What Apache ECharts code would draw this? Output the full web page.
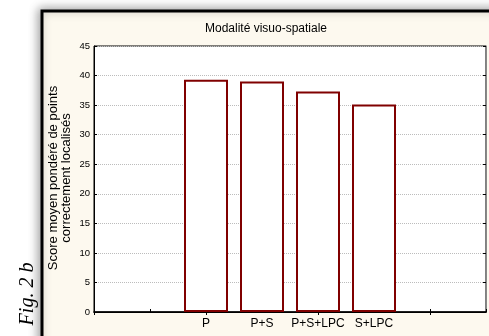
<!DOCTYPE html>
<html>
<head>
<meta charset="utf-8">
<script src="https://cdn.jsdelivr.net/npm/echarts@6/dist/echarts.min.js"></script>
<style>
html,body{margin:0;padding:0;background:#fff;}
#c{width:489px;height:336px;}
</style>
</head>
<body>
<div id="c"></div>
<script>
var categories = ['P', 'P+S', 'P+S+LPC', 'S+LPC'];
var scores = [39.3, 39.0, 37.3, 35.1];
var yTicks = [0, 5, 10, 15, 20, 25, 30, 35, 40, 45];
var titleText = 'Modalité visuo-spatiale';
var yName = 'Score moyen pondéré de points\ncorrectement localisés';
var figLabel = 'Fig. 2 b';

// pad: two empty slots before, two after
var axisCats = ['', ''].concat(categories, ['', '']);
var barData = [null, null].concat(scores, [null, null]);

var chart = echarts.init(document.getElementById('c'), null, {renderer: 'canvas'});
var font = 'Arial, "Liberation Sans", sans-serif';
chart.setOption({
  animation: false,
  backgroundColor: '#fff',
  graphic: [
    {type: 'rect', z: -10, shape: {x: 42, y: 11, width: 470, height: 340},
     style: {fill: '#fdf9ef', stroke: '#000', lineWidth: 3,
             shadowBlur: 10, shadowColor: 'rgba(0,0,0,0.35)', shadowOffsetX: -2, shadowOffsetY: -1}},
    {type: 'text', x: 266, y: 29, z: 10,
     style: {text: titleText, font: '12px ' + font, fill: '#000', textAlign: 'center', textVerticalAlign: 'middle'}},
    {type: 'text', x: 60, y: 178, rotation: Math.PI / 2, z: 10,
     style: {text: yName, font: '13px ' + font, lineHeight: 13, fill: '#000', textAlign: 'center', textVerticalAlign: 'middle'}},
    {type: 'text', x: 28, y: 294, rotation: Math.PI / 2, z: 10,
     style: {text: figLabel, font: 'italic 20px "Liberation Serif", "DejaVu Serif", serif', fill: '#000', textAlign: 'center', textVerticalAlign: 'middle'}}
  ],
  grid: {left: 94, top: 46, width: 394, height: 266, show: true, backgroundColor: '#fff',
         borderWidth: 1, borderColor: '#000'},
  xAxis: [
    {type: 'category', data: axisCats, boundaryGap: false, position: 'bottom',
     axisLine: {lineStyle: {color: '#000', width: 1.5}},
     axisTick: {inside: true, length: 3, lineStyle: {color: '#000'}},
     axisLabel: {interval: 0, color: '#000', fontSize: 12, fontFamily: font, margin: 6},
     splitLine: {show: false}},
    {type: 'category', data: axisCats, boundaryGap: false, position: 'top',
     axisLine: {show: true, lineStyle: {color: '#000', width: 1}},
     axisTick: {show: true, inside: true, length: 3, lineStyle: {color: '#000'}},
     axisLabel: {show: false}, splitLine: {show: false}}
  ],
  yAxis: [
    {type: 'value', min: 0, max: 45, interval: 5, position: 'left',
     axisLine: {show: true, lineStyle: {color: '#000', width: 1}},
     axisTick: {show: true, inside: true, length: 3, lineStyle: {color: '#000'}},
     axisLabel: {color: '#000', fontSize: 9.5, fontFamily: font, margin: 4,
                 formatter: function (v) { return yTicks.indexOf(v) >= 0 ? String(v) : ''; }},
     splitLine: {show: true, lineStyle: {color: '#bcbcbc', type: [1, 1], width: 1}}},
    {type: 'value', min: 0, max: 45, interval: 5, position: 'right',
     axisLine: {show: true, lineStyle: {color: '#888', width: 1}},
     axisTick: {show: true, inside: true, length: 3, lineStyle: {color: '#000'}},
     axisLabel: {show: false}, splitLine: {show: false}}
  ],
  series: [
    {type: 'bar', data: barData, barWidth: 44, xAxisIndex: 0, yAxisIndex: 0,
     itemStyle: {color: '#fff', borderColor: '#800000', borderWidth: 2}},
    {type: 'bar', data: [], xAxisIndex: 1, yAxisIndex: 1}
  ]
});
</script>
</body>
</html>
